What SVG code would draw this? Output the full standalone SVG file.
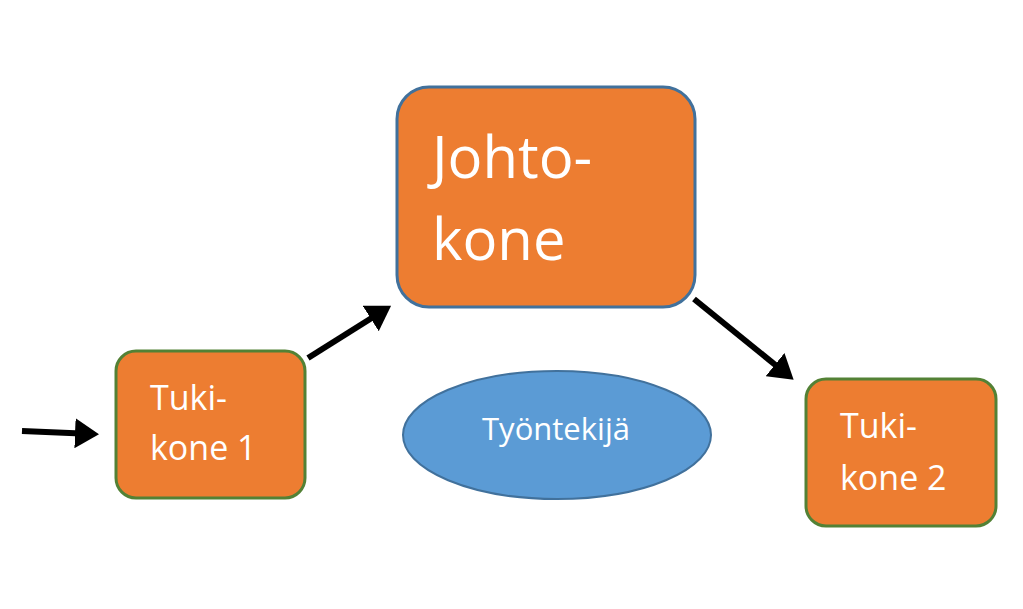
<svg xmlns="http://www.w3.org/2000/svg" width="1023" height="609" viewBox="0 0 1023 609">
<style>
.box{fill:#ED7D31;stroke-width:3}
.t{fill:#fff;font-family:"Open Sans","Liberation Sans",sans-serif}
.c{stroke:#000;stroke-width:6;fill:none;marker-end:url(#a)}
</style>
<defs><marker id="a" markerWidth="5" markerHeight="5" refX="3" refY="2.5" orient="auto" markerUnits="strokeWidth"><path d="M0,0L4,2.5L0,5z" fill="#000"/></marker></defs>
<rect width="1023" height="609" fill="#fff"/>
<g id="johto"><rect class="box" x="397" y="87" width="298" height="220" rx="32" stroke="#41719C"/>
<text class="t" x="432" y="178" font-size="58">Johto-</text><text class="t" x="432" y="260" font-size="58">kone</text></g>
<g id="tuki1"><rect class="box" x="116" y="351" width="189" height="147" rx="20" stroke="#538135"/>
<text class="t" x="150" y="410" font-size="34">Tuki-</text><text class="t" x="150" y="460" font-size="34">kone 1</text></g>
<g id="tuki2"><rect class="box" x="806" y="379" width="190" height="147" rx="20" stroke="#538135"/>
<text class="t" x="840" y="438" font-size="34">Tuki-</text><text class="t" x="840" y="490" font-size="34">kone 2</text></g>
<g id="tyontekija"><ellipse cx="557" cy="435" rx="154" ry="64" fill="#5B9BD5" stroke="#41719C" stroke-width="2"/>
<text class="t" x="556" y="440" font-size="31" text-anchor="middle">Työntekijä</text></g>
<g id="connectors">
<line class="c" x1="22" y1="431" x2="93" y2="434"/>
<line class="c" x1="308" y1="358" x2="386" y2="309"/>
<line class="c" x1="694" y1="299" x2="789" y2="376"/>
</g>
</svg>
